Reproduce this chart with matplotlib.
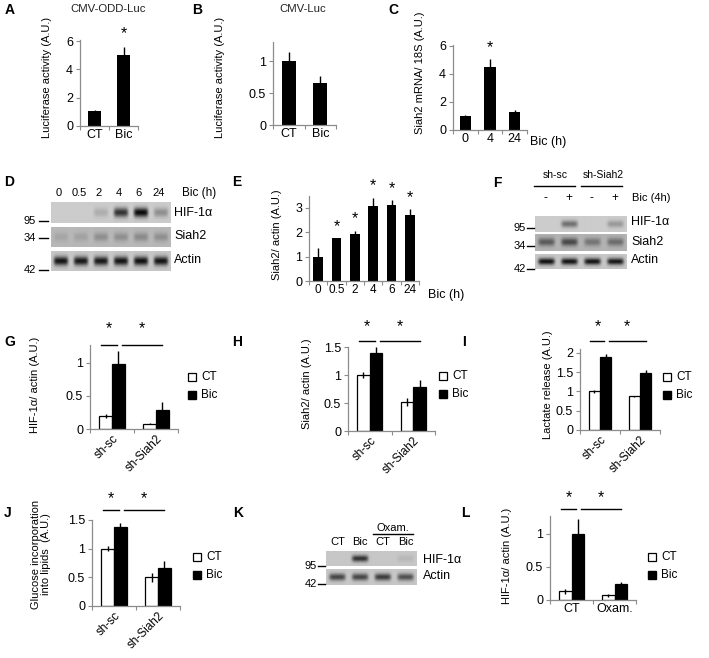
import numpy as np
import matplotlib
matplotlib.use('Agg')
import matplotlib.pyplot as plt

plt.rcParams['font.family'] = ['Liberation Sans', 'DejaVu Sans']

# ---- data ----
A_cats = ['CT', 'Bic']
A_vals = [1.05, 5.0]
A_err = [0.05, 0.6]

B_cats = ['CT', 'Bic']
B_vals = [1.0, 0.66]
B_err = [0.15, 0.1]

C_cats = ['0', '4', '24']
C_vals = [1.0, 4.5, 1.3]
C_err = [0.05, 0.55, 0.1]

E_cats = ['0', '0.5', '2', '4', '6', '24']
E_vals = [1.0, 1.75, 1.95, 3.07, 3.12, 2.7]
E_err = [0.35, 0.02, 0.12, 0.35, 0.2, 0.25]

sh_groups = ['sh-sc', 'sh-Siah2']
G_ct, G_ct_err = [0.2, 0.08], [0.03, 0.01]
G_bic, G_bic_err = [0.98, 0.28], [0.2, 0.13]
H_ct, H_ct_err = [1.0, 0.52], [0.05, 0.07]
H_bic, H_bic_err = [1.4, 0.78], [0.1, 0.13]
I_ct, I_ct_err = [1.0, 0.87], [0.05, 0.02]
I_bic, I_bic_err = [1.9, 1.47], [0.07, 0.08]
J_ct, J_ct_err = [1.0, 0.5], [0.04, 0.08]
J_bic, J_bic_err = [1.37, 0.66], [0.07, 0.13]
L_groups = ['CT', 'Oxam.']
L_ct, L_ct_err = [0.13, 0.07], [0.04, 0.02]
L_bic, L_bic_err = [1.0, 0.24], [0.22, 0.03]

# western blot band intensities per lane (0 = no band)
D_lanes = ['0', '0.5', '2', '4', '6', '24']
D_hif = [0, 0, 0.15, 0.75, 0.95, 0.3]
D_siah2 = [0.1, 0.12, 0.22, 0.22, 0.25, 0.22]
D_actin = [0.9, 0.88, 0.88, 0.9, 0.92, 0.9]
F_lanes = ['-', '+', '-', '+']
F_hif = [0, 0.45, 0, 0.25]
F_siah2 = [0.5, 0.6, 0.35, 0.4]
F_actin = [0.92, 0.9, 0.9, 0.88]
K_lanes = ['CT', 'Bic', 'CT', 'Bic']
K_hif = [0, 0.75, 0, 0.08]
K_actin = [0.65, 0.65, 0.7, 0.6]

W, H = 709, 658
GRAY = '#8c8c8c'
TICK = 9
fig = plt.figure(figsize=(W / 100, H / 100), dpi=100)


def px_axes(x0, x1, ytop, ybot):
    return fig.add_axes([x0 / W, 1 - ybot / H, (x1 - x0) / W, (ybot - ytop) / H])


def style(ax, ymax, yticks, ytl, n, cats, xls=TICK, rot=False):
    for s in ['top', 'right']:
        ax.spines[s].set_visible(False)
    for s in ['left', 'bottom']:
        ax.spines[s].set_color(GRAY)
        ax.spines[s].set_linewidth(0.9)
    ax.set_ylim(0, ymax)
    ax.set_xlim(0, n)
    ax.set_yticks(yticks)
    ax.set_yticklabels(ytl)
    ax.tick_params(axis='y', direction='out', length=3, color=GRAY, labelsize=TICK, pad=2)
    ax.set_xticks(np.arange(n + 1))
    ax.set_xticklabels([])
    ax.tick_params(axis='x', which='major', direction='out', length=3, color=GRAY)
    ax.set_xticks(np.arange(n) + 0.5, minor=True)
    if rot:
        ax.set_xticklabels(cats, minor=True, rotation=45, ha='right',
                           rotation_mode='anchor', fontsize=8.5)
        ax.tick_params(axis='x', which='minor', length=0, pad=3)
    else:
        ax.set_xticklabels(cats, minor=True, fontsize=xls)
        ax.tick_params(axis='x', which='minor', length=0, pad=2)


def simple_bars(ax, vals, err, width, stars=None, star_off=3):
    x = np.arange(len(vals)) + 0.5
    ax.bar(x, vals, width=width, color='black', zorder=2)
    ax.errorbar(x, vals, yerr=[np.zeros(len(vals)), err], fmt='none', ecolor='black',
                elinewidth=1, capsize=0, zorder=3, clip_on=False)
    if stars:
        for i in stars:
            ax.annotate('*', (x[i], vals[i] + err[i]), xytext=(0, star_off),
                        textcoords='offset points', ha='center', va='bottom', fontsize=11.5)


def group_bars(ax, ct, ct_err, bic, bic_err, w, axh, sig_px, star_px):
    c = np.arange(len(ct)) + 0.5
    xc, xb = c - w / 2, c + w / 2
    ax.bar(xc, ct, width=w, color='white', edgecolor='black', linewidth=0.9, zorder=2)
    ax.bar(xb, bic, width=w, color='black', edgecolor='black', linewidth=0.9, zorder=2)
    ax.errorbar(xc, ct, yerr=ct_err, fmt='none', ecolor='black', elinewidth=1, capsize=0, zorder=3)
    ax.errorbar(xb, bic, yerr=bic_err, fmt='none', ecolor='black', elinewidth=1, capsize=0, zorder=3)
    tr = ax.get_xaxis_transform()
    ys = 1 + sig_px / axh
    yt = 1 + star_px / axh
    segs = [(xc[0] - 0.1, xb[0] - 0.03), (xb[0] + 0.08, xb[1])]
    for a, b in segs:
        ax.plot([a, b], [ys, ys], color='black', lw=1, transform=tr, clip_on=False)
        ax.text((a + b) / 2, yt, '*', transform=tr, ha='center', va='center', fontsize=11.5)


def blot(x0, x1, ytop, ybot, levels, bg):
    ax = px_axes(x0, x1, ytop, ybot)
    n = len(levels)
    nx, ny = 240, 40
    x = (np.arange(nx) + 0.5) / nx * n
    y = (np.arange(ny) + 0.5) / ny
    lane = np.floor(x).astype(int)
    frac = x - lane - 0.5
    px = np.exp(-(frac / 0.36) ** 6)
    py = np.exp(-((y - 0.5) / 0.22) ** 2)
    lv = np.array(levels)[lane]
    img = bg - (lv * px)[None, :] * py[:, None] * bg
    ax.imshow(img, cmap='gray', vmin=0, vmax=1, aspect='auto', extent=[0, n, 0, 1],
              interpolation='bilinear')
    ax.axis('off')
    return ax


# ---- A ----
ax = px_axes(80, 138, 39.6, 126)
style(ax, 6.1, [0, 2, 4, 6], ['0', '2', '4', '6'], 2, A_cats)
simple_bars(ax, A_vals, A_err, 0.48, stars=[1], star_off=4)

# ---- B ----
ax = px_axes(273, 336, 42, 125)
style(ax, 1.3, [0, 0.5, 1], ['0', '0.5', '1'], 2, B_cats)
simple_bars(ax, B_vals, B_err, 0.46)

# ---- C ----
ax = px_axes(453, 527, 44.6, 130)
style(ax, 6.1, [0, 2, 4, 6], ['0', '2', '4', '6'], 3, C_cats)
simple_bars(ax, C_vals, C_err, 0.45, stars=[1], star_off=3)

# ---- E ----
ax = px_axes(309, 419, 195.8, 281)
style(ax, 3.5, [0, 1, 2, 3], ['0', '1', '2', '3'], 6, E_cats, xls=8.5)
simple_bars(ax, E_vals, E_err, 0.52, stars=[1, 2, 3, 4, 5], star_off=3)

# ---- grouped panels ----
legend_pos = []
ax = px_axes(90, 178, 345, 429)
style(ax, 1.27, [0, 0.5, 1], ['0', '0.5', '1'], 2, sh_groups, rot=True)
group_bars(ax, G_ct, G_ct_err, G_bic, G_bic_err, 0.29, 84, 0, 16)
legend_pos.append((192, 377))

ax = px_axes(348, 435, 347, 431)
style(ax, 1.5, [0, 0.5, 1, 1.5], ['0', '0.5', '1', '1.5'], 2, sh_groups, rot=True)
group_bars(ax, H_ct, H_ct_err, H_bic, H_bic_err, 0.29, 84, 6, 20)
legend_pos.append((443, 376))

ax = px_axes(580, 660, 349, 430)
style(ax, 2.1, [0, 0.5, 1, 1.5, 2], ['0', '0.5', '1', '1.5', '2'], 2, sh_groups, rot=True)
group_bars(ax, I_ct, I_ct_err, I_bic, I_bic_err, 0.28, 81, 8, 22)
legend_pos.append((667, 377))

ax = px_axes(92, 180, 520, 606)
style(ax, 1.5, [0, 0.5, 1, 1.5], ['0', '0.5', '1', '1.5'], 2, sh_groups, rot=True)
group_bars(ax, J_ct, J_ct_err, J_bic, J_bic_err, 0.29, 86, 10, 21)
legend_pos.append((197, 557))

ax = px_axes(550, 636, 515.5, 600)
style(ax, 1.28, [0, 0.5, 1], ['0', '0.5', '1'], 2, L_groups)
group_bars(ax, L_ct, L_ct_err, L_bic, L_bic_err, 0.29, 84.5, 6.5, 18)
legend_pos.append((652, 557))

# ---- blots ----
blot(51, 171, 202, 223, D_hif, 0.8)
blot(51, 171, 227, 247, D_siah2, 0.72)
blot(51, 171, 251, 271, D_actin, 0.78)
blot(535, 627, 216, 232, F_hif, 0.8)
blot(535, 627, 234, 251, F_siah2, 0.7)
blot(535, 627, 254, 269, F_actin, 0.78)
blot(326, 417, 551, 566, K_hif, 0.78)
blot(326, 417, 569, 585, K_actin, 0.78)

# ---- overlay for labels ----
ov = fig.add_axes([0, 0, 1, 1], zorder=10)
ov.set_xlim(0, W)
ov.set_ylim(H, 0)
ov.axis('off')
ov.patch.set_alpha(0)


def t(x, y, s, size=8, **kw):
    kw.setdefault('ha', 'left')
    kw.setdefault('va', 'center')
    ov.text(x, y, s, fontsize=size, **kw)


for letter, x, y in [('A', 5, 10), ('B', 192, 10), ('C', 388, 10), ('D', 4, 182),
                     ('E', 232, 182), ('F', 493, 183), ('G', 4, 342), ('H', 232, 342),
                     ('I', 462, 342), ('J', 4, 513), ('K', 233, 513), ('L', 461, 513)]:
    t(x, y, letter, size=10, fontweight='bold')

t(108, 9, 'CMV-ODD-Luc', 8.2, ha='center', color='#222222')
t(303, 9, 'CMV-Luc', 8.2, ha='center', color='#222222')

for x, y, s in [(47, 77, 'Luciferase activity (A.U.)'), (220, 77, 'Luciferase activity (A.U.)'),
                (420, 73, 'Siah2 mRNA/ 18S (A.U.)'), (277, 235, 'Siah2/ actin (A.U.)'),
                (35, 385, 'HIF-1α/ actin (A.U.)'), (307, 384, 'Siah2/ actin (A.U.)'),
                (548, 385, 'Lactate release (A.U.)'),
                (41, 554, 'Glucose incorporation\ninto lipids  (A.U.)'),
                (507, 556, 'HIF-1α/ actin (A.U.)')]:
    t(x, y, s, 8, ha='center', rotation=90, linespacing=1.05)

t(530, 142, 'Bic (h)', 9)
t(428, 295, 'Bic (h)', 9)

# legends
for x, y in legend_pos:
    ov.plot([x], [y], marker='s', ms=6, mfc='white', mec='black', mew=0.9, ls='none')
    ov.plot([x], [y + 18], marker='s', ms=6, mfc='black', mec='black', ls='none')
    t(x + 9, y, 'CT', 8.5)
    t(x + 9, y + 18, 'Bic', 8.5)

# D labels
lane_w = (171 - 51) / len(D_lanes)
for i, s in enumerate(D_lanes):
    t(51 + lane_w * (i + 0.5) - 2, 193, s, 8, ha='center')
t(182, 193, 'Bic (h)', 8.5)
for y, s in [(213, 'HIF-1α'), (236, 'Siah2'), (260, 'Actin')]:
    t(174, y, s, 9)
for y, s in [(221, '95'), (238, '34'), (270, '42')]:
    t(36, y, s, 8, ha='right')
    ov.plot([39, 48], [y, y], color='black', lw=1)

# F labels
lane_w = (627 - 535) / len(F_lanes)
for i, s in enumerate(F_lanes):
    t(535 + lane_w * (i + 0.5) - 1, 198, s, 8.5, ha='center')
t(555, 175, 'sh-sc', 7.5, ha='center')
t(603, 175, 'sh-Siah2', 7.5, ha='center')
ov.plot([534, 575], [186, 186], color='black', lw=1)
ov.plot([581, 622], [186, 186], color='black', lw=1)
t(632, 198, 'Bic (4h)', 8)
for y, s in [(222, 'HIF-1α'), (242, 'Siah2'), (260, 'Actin')]:
    t(631, y, s, 9)
for y, s in [(228, '95'), (246, '34'), (269, '42')]:
    t(526, y, s, 8, ha='right')
    ov.plot([527, 534], [y, y], color='black', lw=1)

# K labels
lane_w = (417 - 326) / len(K_lanes)
for i, s in enumerate(K_lanes):
    t(326 + lane_w * (i + 0.5), 542, s, 8, ha='center')
t(393, 528, 'Oxam.', 8, ha='center')
ov.plot([373, 413], [534, 534], color='black', lw=1)
for y, s in [(560, 'HIF-1α'), (576, 'Actin')]:
    t(423, y, s, 9)
for y, s in [(566, '95'), (584, '42')]:
    t(317, y, s, 8, ha='right')
    ov.plot([318, 325], [y, y], color='black', lw=1)

fig.savefig('out.png', dpi=100)
